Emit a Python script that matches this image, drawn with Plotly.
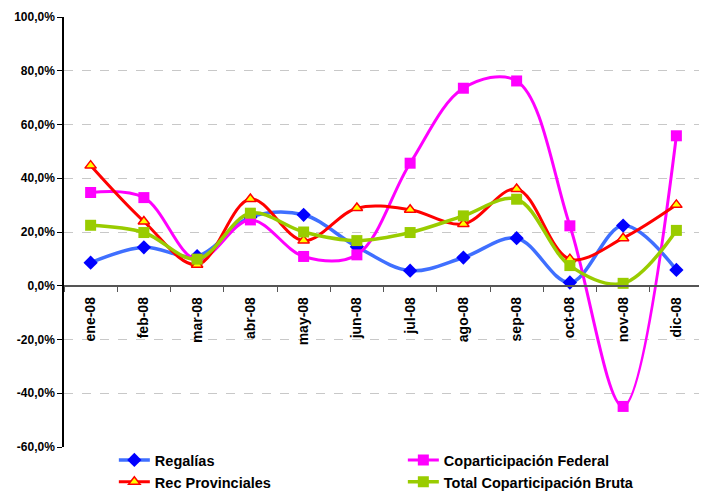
import plotly.graph_objects as go

months = ["ene-08", "feb-08", "mar-08", "abr-08", "may-08", "jun-08",
          "jul-08", "ago-08", "sep-08", "oct-08", "nov-08", "dic-08"]
regalias = [8.6, 14.3, 11.0, 25.5, 26.4, 14.5, 5.6, 10.5, 17.7, 1.2, 22.4, 5.9]
copart_federal = [34.7, 32.8, 9.7, 24.5, 10.9, 11.5, 45.6, 73.5, 76.2, 22.3, -44.9, 55.8]
rec_provinciales = [44.7, 23.9, 7.8, 32.3, 16.8, 28.9, 28.3, 23.0, 36.0, 9.9, 17.7, 30.1]
total_copart = [22.5, 19.8, 9.9, 27.0, 20.0, 16.8, 19.8, 26.0, 32.2, 7.5, 0.9, 20.6]
y_ticks = [-60, -40, -20, 0, 20, 40, 60, 80, 100]
y_ticktext = [f"{v:.1f}".replace(".", ",") + "%" for v in y_ticks]

FONT = "Liberation Sans, Arial, sans-serif"

fig = go.Figure()
fig.add_trace(go.Scatter(
    x=months, y=regalias, name="Regalías", mode="lines+markers", legend="legend",
    line=dict(color="#3F6FFF", width=3.5, shape="spline", smoothing=1.0),
    marker=dict(symbol="diamond", size=11, color="#0000FF"),
))
fig.add_trace(go.Scatter(
    x=months, y=copart_federal, name="Coparticipación Federal", mode="lines+markers",
    legend="legend",
    line=dict(color="#FF00FF", width=3, shape="spline", smoothing=1.0),
    marker=dict(symbol="square", size=11, color="#FF00FF"),
))
fig.add_trace(go.Scatter(
    x=months, y=rec_provinciales, name="Rec Provinciales", mode="lines+markers",
    legend="legend2",
    line=dict(color="#FF0000", width=3, shape="spline", smoothing=1.0),
    marker=dict(symbol="triangle-up", size=10, color="#FFFF00",
                line=dict(color="#FF0000", width=1.5)),
))
fig.add_trace(go.Scatter(
    x=months, y=total_copart, name="Total Coparticipación Bruta", mode="lines+markers",
    legend="legend2",
    line=dict(color="#99CC00", width=3.5, shape="spline", smoothing=1.0),
    marker=dict(symbol="square", size=11, color="#99CC00"),
))

legend_common = dict(
    orientation="h", xanchor="left", yanchor="top",
    entrywidth=243, entrywidthmode="pixels",
    font=dict(family=FONT, size=14.5, color="black", weight="bold"),
    itemwidth=31, bgcolor="rgba(0,0,0,0)",
)

fig.update_layout(
    width=699, height=485,
    margin=dict(l=56, r=4, t=9, b=46, autoexpand=False),
    paper_bgcolor="white", plot_bgcolor="white",
    font=dict(family=FONT, size=12, color="black"),
    showlegend=True,
    legend=dict(x=0.078, y=0.007, **legend_common),
    legend2=dict(x=0.078, y=-0.044, **legend_common),
    xaxis=dict(
        type="category", range=[-0.5, 11.5],
        anchor="free", position=0.375,
        showline=True, linecolor="#555555", linewidth=1.5,
        ticks="outside", ticklen=5, tickcolor="#555555", tickson="boundaries",
        tickangle=-90, showgrid=False, zeroline=False, ticklabelstandoff=5,
        tickfont=dict(family=FONT, size=14, color="black", weight="bold"),
    ),
    yaxis=dict(
        range=[-60, 100], tickvals=y_ticks, ticktext=y_ticktext,
        showline=True, linecolor="black", linewidth=1.5,
        ticks="outside", ticklen=5, tickcolor="black",
        showgrid=True, gridcolor="#C8C8C8", griddash="dash", gridwidth=1,
        zeroline=False,
        tickfont=dict(family=FONT, size=12, color="black", weight="bold"),
    ),
)

fig.write_html("out.html")
